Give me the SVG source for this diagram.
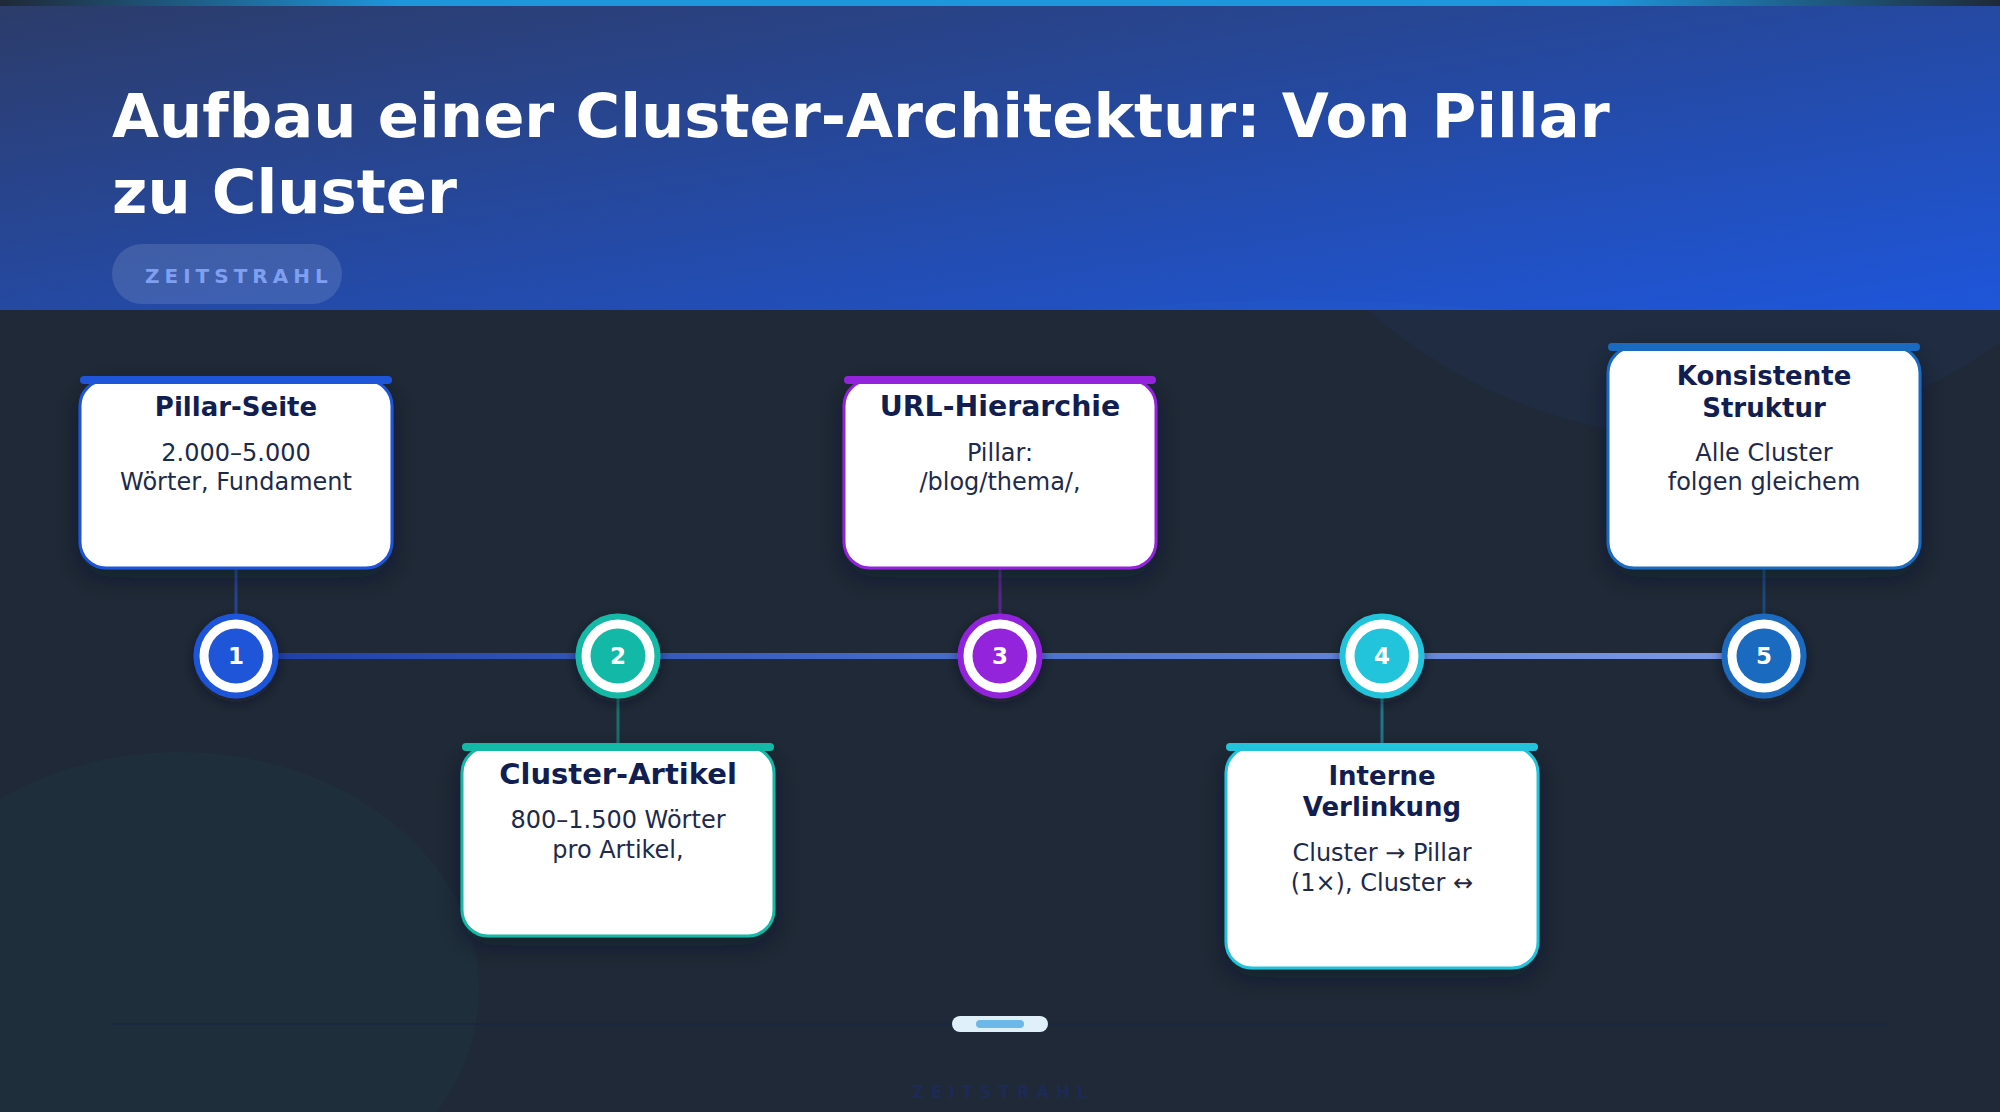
<svg xmlns="http://www.w3.org/2000/svg" width="2000" height="1112" viewBox="0 0 2000 1112">
<defs>
  <linearGradient id="hdr" x1="0" y1="0" x2="1" y2="1">
    <stop offset="0" stop-color="#2c3c69"/>
    <stop offset="1" stop-color="#1e56da"/>
  </linearGradient>
  <linearGradient id="stripe" x1="0" y1="0" x2="1" y2="0">
    <stop offset="0" stop-color="#1f2937"/>
    <stop offset="0.2" stop-color="#1e96dc"/>
    <stop offset="0.8" stop-color="#1e96dc"/>
    <stop offset="1" stop-color="#1f2937"/>
  </linearGradient>
  <linearGradient id="tl" gradientUnits="userSpaceOnUse" x1="236" y1="0" x2="1764" y2="0">
    <stop offset="0" stop-color="#1e3ea6"/>
    <stop offset="0.5" stop-color="#4a70cc"/>
    <stop offset="1" stop-color="#7d9ae6"/>
  </linearGradient>
  <clipPath id="hclip"><rect x="0" y="0" width="2000" height="310"/></clipPath>
  <filter id="sh" x="-30%" y="-30%" width="160%" height="160%">
    <feDropShadow dx="0" dy="8" stdDeviation="12" flood-color="#0b1220" flood-opacity="0.45"/>
  </filter>
  <filter id="csh" x="-50%" y="-50%" width="200%" height="200%">
    <feDropShadow dx="0" dy="4" stdDeviation="6" flood-color="#0b1220" flood-opacity="0.5"/>
  </filter>
  <style>
    .title{font-family:"DejaVu Sans","Liberation Sans",sans-serif;font-weight:bold;font-size:60.8px;fill:#ffffff}
    .tag{font-family:"DejaVu Sans","Liberation Sans",sans-serif;font-weight:bold;font-size:20px;letter-spacing:5px;fill:#7f9ff0}
    .card{fill:#ffffff;stroke-width:3}
    .ct{font-family:"DejaVu Sans","Liberation Sans",sans-serif;font-weight:bold;font-size:26px;fill:#111e4f;text-anchor:middle}
    .cb{font-family:"DejaVu Sans","Liberation Sans",sans-serif;font-size:24px;fill:#1e2a4a;text-anchor:middle}
    .num{font-family:"DejaVu Sans","Liberation Sans",sans-serif;font-weight:bold;font-size:23px;fill:#ffffff;text-anchor:middle}
    .ring{fill:#ffffff;stroke-width:6}
    .conn{stroke-width:3;stroke-opacity:0.5}
  </style>
</defs>

<!-- background -->
<rect x="0" y="0" width="2000" height="1112" fill="#1f2937"/>
<circle cx="1704" cy="-68" r="506" fill="#2563eb" fill-opacity="0.06"/>
<ellipse cx="179" cy="990" rx="300" ry="238" fill="#14b8a6" fill-opacity="0.04"/>
<line x1="112" y1="1024" x2="1888" y2="1024" stroke="#1a2742" stroke-width="2"/>

<!-- header -->
<g id="header">
  <rect x="0" y="0" width="2000" height="310" fill="url(#hdr)"/>
  <ellipse cx="1300" cy="1180" rx="1300" ry="880" fill="#3b82f6" fill-opacity="0.06" clip-path="url(#hclip)"/>
  <rect x="0" y="0" width="2000" height="6" fill="url(#stripe)"/>
  <text class="title" x="112" y="137">Aufbau einer Cluster-Architektur: Von Pillar</text>
  <text class="title" x="112" y="213">zu Cluster</text>
  <rect x="112" y="244" width="230" height="60" rx="30" fill="#ffffff" fill-opacity="0.12"/>
  <text class="tag" x="145" y="283">ZEITSTRAHL</text>
</g>

<!-- connectors -->
<g id="connectors">
  <line x1="236" y1="656" x2="1764" y2="656" stroke="url(#tl)" stroke-width="6"/>
  <line class="conn" x1="236" y1="568" x2="236" y2="614" stroke="#2d63e0"/>
  <line class="conn" x1="618" y1="698" x2="618" y2="747" stroke="#14b8a6"/>
  <line class="conn" x1="1000" y1="568" x2="1000" y2="614" stroke="#9324dc"/>
  <line class="conn" x1="1382" y1="698" x2="1382" y2="747" stroke="#22c4dc"/>
  <line class="conn" x1="1764" y1="568" x2="1764" y2="614" stroke="#1a6bbf"/>
</g>

<!-- step 1 -->
<g id="step1">
  <rect class="card" x="80" y="380" width="312" height="188" rx="26" stroke="#1f55d9" filter="url(#sh)"/>
  <rect x="80" y="376" width="312" height="8" rx="4" fill="#1f55d9"/>
  <text class="ct" x="236" y="416">Pillar-Seite</text>
  <text class="cb" x="236" y="461">2.000–5.000</text>
  <text class="cb" x="236" y="490">Wörter, Fundament</text>
  <circle class="ring" cx="236" cy="656" r="39.5" stroke="#1f55d9" filter="url(#csh)"/>
  <circle cx="236" cy="656" r="27.5" fill="#1f55d9"/>
  <text class="num" x="236" y="664">1</text>
</g>

<!-- step 2 -->
<g id="step2">
  <rect class="card" x="462" y="747" width="312" height="189" rx="26" stroke="#14b8a6" filter="url(#sh)"/>
  <rect x="462" y="743" width="312" height="8" rx="4" fill="#14b8a6"/>
  <text class="ct" x="618" y="784" font-size="29px" style="font-size:29px">Cluster-Artikel</text>
  <text class="cb" x="618" y="828">800–1.500 Wörter</text>
  <text class="cb" x="618" y="858">pro Artikel,</text>
  <circle class="ring" cx="618" cy="656" r="39.5" stroke="#14b8a6" filter="url(#csh)"/>
  <circle cx="618" cy="656" r="27.5" fill="#14b8a6"/>
  <text class="num" x="618" y="664">2</text>
</g>

<!-- step 3 -->
<g id="step3">
  <rect class="card" x="844" y="380" width="312" height="188" rx="26" stroke="#9324dc" filter="url(#sh)"/>
  <rect x="844" y="376" width="312" height="8" rx="4" fill="#9324dc"/>
  <text class="ct" x="1000" y="416" style="font-size:28.4px">URL-Hierarchie</text>
  <text class="cb" x="1000" y="461">Pillar:</text>
  <text class="cb" x="1000" y="490">/blog/thema/,</text>
  <circle class="ring" cx="1000" cy="656" r="39.5" stroke="#9324dc" filter="url(#csh)"/>
  <circle cx="1000" cy="656" r="27.5" fill="#9324dc"/>
  <text class="num" x="1000" y="664">3</text>
</g>

<!-- step 4 -->
<g id="step4">
  <rect class="card" x="1226" y="747" width="312" height="221" rx="26" stroke="#22c4dc" filter="url(#sh)"/>
  <rect x="1226" y="743" width="312" height="8" rx="4" fill="#22c4dc"/>
  <text class="ct" x="1382" y="785">Interne</text>
  <text class="ct" x="1382" y="816">Verlinkung</text>
  <text class="cb" x="1382" y="861">Cluster → Pillar</text>
  <text class="cb" x="1382" y="891">(1×), Cluster ↔</text>
  <circle class="ring" cx="1382" cy="656" r="39.5" stroke="#22c4dc" filter="url(#csh)"/>
  <circle cx="1382" cy="656" r="27.5" fill="#22c4dc"/>
  <text class="num" x="1382" y="664">4</text>
</g>

<!-- step 5 -->
<g id="step5">
  <rect class="card" x="1608" y="347" width="312" height="221" rx="26" stroke="#1a6bbf" filter="url(#sh)"/>
  <rect x="1608" y="343" width="312" height="8" rx="4" fill="#1a6bbf"/>
  <text class="ct" x="1764" y="385">Konsistente</text>
  <text class="ct" x="1764" y="417">Struktur</text>
  <text class="cb" x="1764" y="461">Alle Cluster</text>
  <text class="cb" x="1764" y="490">folgen gleichem</text>
  <circle class="ring" cx="1764" cy="656" r="39.5" stroke="#1a6bbf" filter="url(#csh)"/>
  <circle cx="1764" cy="656" r="27.5" fill="#1a6bbf"/>
  <text class="num" x="1764" y="664">5</text>
</g>

<!-- footer -->
<g id="footer">
  <rect x="952" y="1016" width="96" height="16" rx="8" fill="#e0f0fb"/>
  <rect x="976" y="1020" width="48" height="8" rx="4" fill="#6cb8e8"/>
  <text x="1003" y="1098" text-anchor="middle" font-family="DejaVu Sans, Liberation Sans, sans-serif" font-weight="bold" font-size="17" letter-spacing="6.5" fill="#1c2a55">ZEITSTRAHL</text>
</g>
</svg>
